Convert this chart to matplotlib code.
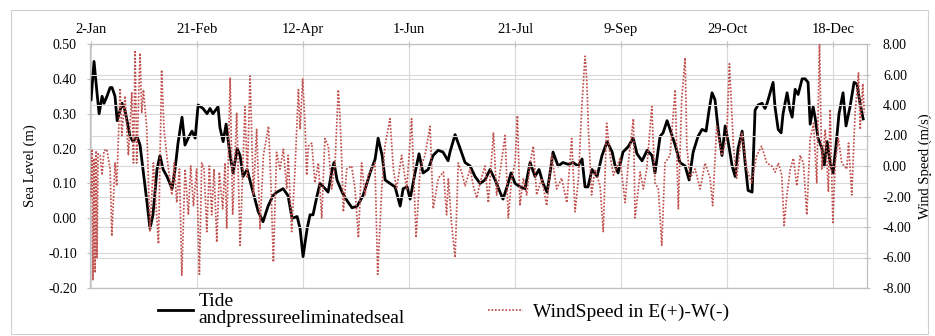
import matplotlib
matplotlib.use("Agg")
import matplotlib.pyplot as plt
from matplotlib.lines import Line2D
from matplotlib.patches import Rectangle

plt.rcParams['font.family'] = ['Liberation Serif', 'DejaVu Serif']

# ---------------- data (days counted from 2-Jan) ----------------
tick_days = [0, 50, 100, 150, 200, 250, 300, 350]
tick_labels = ["2-Jan", "21-Feb", "12-Apr", "1-Jun", "21-Jul", "9-Sep", "29-Oct", "18-Dec"]

sea_days = [0, 1.4, 2.8, 3.8, 5.2, 6.1, 7.5, 9.0, 9.9, 11.3, 12.3, 14.6, 16.0, 18.4, 19.8,
            21.7, 23.1, 24.5, 26.4, 27.8, 29.2, 31.1, 32.5, 34.0, 35.8, 38.2, 39.6, 41.0,
            42.9, 44.3, 45.8, 47.6, 49.1, 50.5, 52.8, 54.7, 56.1, 57.5, 59.9, 60.8, 62.3,
            63.7, 65.6, 67.0, 68.9, 70.3, 71.7, 73.6, 76.4, 78.8, 81.1, 83.5, 85.8, 87.7,
            90.6, 92.9, 94.8, 97.2, 98.6, 100.0, 101.9, 103.3, 104.7, 106.6, 108.0, 110.4,
            111.8, 113.7, 114.6, 116.0, 118.4, 120.8, 123.1, 125.5, 128.3, 131.6, 134.0,
            135.4, 137.3, 138.7, 141.0, 143.4, 145.8, 147.2, 149.1, 150.5, 152.8, 154.7,
            156.6, 159.0, 161.3, 163.7, 166.0, 168.4, 169.3, 171.7, 174.1, 176.4, 178.8,
            181.1, 183.5, 185.8, 188.2, 190.6, 192.9, 194.3, 196.2, 198.1, 200.0, 202.4,
            204.7, 207.1, 209.4, 211.3, 213.2, 215.1, 216.5, 217.9, 220.3, 222.6, 225.0,
            227.4, 229.7, 231.6, 233.0, 234.4, 236.3, 238.7, 241.0, 243.4, 245.8, 247.2,
            248.6, 250.9, 253.3, 255.7, 257.5, 259.9, 262.3, 264.6, 266.0, 268.4, 269.8,
            271.7, 273.1, 275.5, 277.8, 280.2, 282.1, 284.0, 286.3, 288.2, 290.1, 291.5,
            292.9, 294.3, 295.8, 297.6, 299.1, 300.5, 302.4, 303.8, 305.2, 307.1, 308.5,
            309.9, 311.8, 313.2, 314.6, 316.5, 317.9, 318.9, 320.3, 321.7, 322.6, 324.1,
            325.5, 326.4, 328.3, 329.7, 330.7, 332.1, 333.5, 335.4, 336.8, 338.2, 339.2,
            340.6, 341.5, 342.9, 344.8, 345.8, 347.2, 348.6, 350.0, 351.4, 352.8, 354.7,
            356.1, 358.0, 359.9, 361.3, 362.7, 364.2]
sea_level = [0.34, 0.45, 0.36, 0.30, 0.35, 0.33, 0.35, 0.375, 0.375, 0.35, 0.28, 0.33, 0.31,
             0.235, 0.22, 0.235, 0.21, 0.14, 0.045, -0.03, 0.01, 0.14, 0.18, 0.14, 0.12,
             0.085, 0.14, 0.215, 0.29, 0.21, 0.23, 0.25, 0.23, 0.325, 0.315, 0.30, 0.315,
             0.30, 0.32, 0.26, 0.22, 0.27, 0.18, 0.13, 0.20, 0.18, 0.12, 0.14, 0.075, 0.02,
             -0.01, 0.035, 0.065, 0.075, 0.085, 0.065, 0.00, 0.005, -0.03, -0.11, -0.03,
             0.01, 0.01, 0.065, 0.10, 0.085, 0.075, 0.14, 0.16, 0.11, 0.075, 0.05, 0.03,
             0.035, 0.065, 0.13, 0.17, 0.23, 0.18, 0.11, 0.10, 0.09, 0.035, 0.085, 0.09,
             0.055, 0.13, 0.185, 0.13, 0.14, 0.18, 0.195, 0.19, 0.165, 0.19, 0.24, 0.20,
             0.16, 0.15, 0.12, 0.10, 0.11, 0.14, 0.11, 0.075, 0.055, 0.09, 0.13, 0.10, 0.09,
             0.085, 0.16, 0.12, 0.14, 0.10, 0.075, 0.13, 0.19, 0.15, 0.16, 0.155, 0.16,
             0.15, 0.17, 0.09, 0.09, 0.14, 0.12, 0.18, 0.22, 0.19, 0.15, 0.13, 0.19, 0.205,
             0.23, 0.185, 0.165, 0.195, 0.18, 0.13, 0.235, 0.245, 0.28, 0.255, 0.21, 0.16,
             0.15, 0.11, 0.19, 0.235, 0.255, 0.25, 0.31, 0.36, 0.34, 0.255, 0.18, 0.265,
             0.22, 0.15, 0.12, 0.20, 0.25, 0.16, 0.08, 0.075, 0.31, 0.325, 0.33, 0.315,
             0.33, 0.36, 0.39, 0.32, 0.255, 0.245, 0.30, 0.36, 0.31, 0.29, 0.37, 0.355,
             0.40, 0.40, 0.39, 0.27, 0.32, 0.29, 0.23, 0.20, 0.15, 0.22, 0.16, 0.13, 0.21,
             0.30, 0.36, 0.265, 0.32, 0.39, 0.385, 0.33, 0.285]

wind_days = [0, 0.5, 0.9, 1.4, 1.9, 2.4, 2.8, 3.3, 4.3, 5.2, 6.1, 7.4, 9.0, 9.8, 11.3, 12.1,
             13.7, 14.5, 16.0, 17.6, 19.2, 20.0, 20.8, 21.5, 23.1, 23.9, 24.7, 26.3, 27.8,
             29.4, 31.8, 33.3, 34.4, 35.7, 38.1, 39.2, 40.4, 41.7, 42.8, 44.3, 45.9, 47.0,
             48.3, 49.8, 51.1, 52.2, 53.3, 54.6, 55.8, 56.9, 58.0, 59.3, 60.5, 62.1, 63.2,
             64.0, 65.6, 66.8, 68.7, 70.3, 72.6, 73.7, 75.0, 76.6, 78.1, 79.7, 81.3, 83.7,
             84.8, 86.0, 87.5, 89.1, 90.7, 92.3, 93.0, 94.6, 96.2, 97.8, 98.6, 99.8, 100.9,
             101.7, 102.5, 104.1, 105.6, 107.2, 108.8, 110.3, 111.9, 113.5, 115.1, 116.6,
             117.4, 118.2, 119.0, 120.6, 122.9, 124.5, 126.1, 127.6, 129.2, 130.8, 132.4,
             133.9, 135.2, 137.1, 138.6, 141.0, 142.6, 144.1, 146.5, 148.9, 151.2, 153.3,
             155.2, 157.5, 159.9, 161.4, 163.8, 166.2, 167.7, 168.5, 170.1, 171.7, 173.2,
             174.8, 176.4, 178.8, 180.3, 181.9, 183.5, 185.8, 187.4, 189.8, 191.3, 192.9,
             195.3, 196.8, 198.4, 200.0, 201.1, 202.3, 203.9, 205.5, 207.1, 208.6, 210.2,
             212.6, 214.9, 217.3, 219.6, 222.0, 224.4, 226.7, 228.3, 229.9, 231.4, 233.0,
             233.8, 234.6, 236.1, 237.7, 240.1, 241.6, 243.2, 244.8, 246.4, 248.7, 249.5,
             251.9, 253.4, 255.8, 256.6, 259.0, 260.5, 262.1, 264.5, 266.0, 267.6, 269.2,
             270.7, 273.1, 275.5, 277.0, 278.6, 280.2, 281.0, 282.5, 284.9, 287.3, 289.6,
             292.0, 293.2, 295.1, 297.5, 299.8, 301.1, 303.0, 304.5, 306.9, 309.3, 311.6,
             314.0, 316.3, 318.7, 321.1, 322.7, 324.2, 325.8, 326.9, 328.2, 329.8, 331.3,
             332.9, 334.5, 336.0, 337.6, 339.2, 340.8, 342.3, 343.6, 344.7, 346.3, 347.8,
             348.6, 349.9, 351.0, 352.5, 354.1, 356.5, 357.3, 358.8, 360.4, 362.0, 362.8,
             364.0, 364.7]
wind_speed = [-2.0, 1.0, -7.5, 0.5, -7.0, 1.0, -6.0, 0.8, 0.7, -0.6, 1.0, 1.1, -0.2, -4.6,
              0.2, -1.3, 5.1, 2.0, 4.6, 0.7, 4.8, 0.2, 7.6, 0.2, 7.4, 3.5, 5.0, 2.4, -4.3,
              0.2, -5.1, 6.3, 2.4, 0.7, -1.9, 0.2, -2.4, -0.2, -7.2, -0.2, -3.2, 0.0, -2.6,
              -0.2, -7.1, 0.2, -0.2, -4.3, 0.0, -3.2, -0.2, -5.0, -0.4, -2.8, 0.2, -4.1,
              5.8, -3.2, 3.5, -5.2, 3.9, -0.8, 5.9, -1.9, 2.4, -4.1, 0.7, 2.6, -1.1, -6.3,
              0.9, -0.2, 1.1, -1.5, 0.7, -4.3, -0.2, 5.0, 2.4, 5.7, 2.8, -0.6, 1.3, 1.5,
              -1.1, 0.2, -3.4, 1.8, 1.3, -1.5, 0.2, 5.0, 3.3, 0.5, -3.0, -0.2, 0.0, -1.5,
              -4.7, 0.2, -1.9, -0.6, -0.2, 0.2, -7.1, -1.5, 1.3, 3.1, -0.2, -1.5, 0.7, -1.5,
              3.1, -4.7, -0.2, 0.7, 2.6, -2.8, -0.8, -0.4, -3.2, -0.8, -3.9, -6.0, 0.2,
              -0.4, -1.3, -0.2, -1.3, -2.1, -1.1, 0.0, -2.4, 2.2, -1.9, -0.4, 2.0, -3.4,
              -0.8, 0.2, 3.3, -2.6, -0.8, -1.9, 0.2, 1.3, -1.9, -0.8, -2.6, 0.7, -1.5, -0.8,
              -2.4, 1.8, -3.0, -0.8, 3.7, 7.2, 5.7, 2.4, -1.9, -0.2, -1.3, -4.3, 2.8, 0.7,
              -0.6, 0.2, 0.5, -2.4, 0.2, 3.1, -3.4, -0.4, -1.5, -0.2, 3.9, -1.1, -1.5, -5.2,
              0.2, 0.7, 5.0, -2.8, 4.4, 7.1, 1.3, -0.8, -0.2, -1.5, 0.2, -0.8, -2.6, 2.6,
              0.7, 1.8, 6.7, 1.3, -0.8, 2.2, -0.2, -1.1, 0.7, 1.3, 0.2, 0.0, -0.4, 0.2,
              -0.6, -3.9, -1.9, -0.2, 0.5, -1.3, 0.7, 0.2, -3.2, 1.8, 2.8, -1.1, 8.0, -0.2,
              2.4, -1.7, 3.7, -3.7, 0.2, 1.8, 0.2, -0.2, 1.5, -1.9, 3.5, 6.1, 2.4, 5.4, 3.5]

sea_ticks = [-0.2, -0.1, 0.0, 0.1, 0.2, 0.3, 0.4, 0.5]
wind_ticks = [-8, -6, -4, -2, 0, 2, 4, 6, 8]

# ---------------- figure ----------------
fig = plt.figure(figsize=(9.35, 3.36), dpi=100)
ax = fig.add_axes([90 / 935, 1 - 288 / 336, (867 - 90) / 935, (288 - 44) / 336])
ax2 = ax.twinx()

grid_c = '#D9D9D9'
spine_c = '#BFBFBF'
wind_c = '#C0504D'

ax.plot(sea_days, sea_level, color='black', lw=2.0, zorder=3)
ax2.plot(wind_days, wind_speed, color=wind_c, lw=1.25, linestyle=(0, (1, 1)), zorder=3)

ax.set_xlim(-0.5, 366)
ax.set_ylim(-0.2, 0.5)
ax2.set_ylim(-8, 8)

ax.set_xticks(tick_days)
ax.set_xticklabels(tick_labels)
ax.xaxis.tick_top()
ax.set_yticks(sea_ticks)
ax.set_yticklabels([f"{v:.2f}" for v in sea_ticks])
ax2.set_yticks(wind_ticks)
ax2.set_yticklabels([f"{v:.2f}" for v in wind_ticks])

ax.grid(True, color=grid_c, lw=0.8, zorder=0)
ax2.grid(True, axis='y', color=grid_c, lw=0.8, zorder=0)
ax.set_axisbelow(True)
ax2.set_axisbelow(True)

for a in (ax, ax2):
    for s in a.spines.values():
        s.set_color(spine_c)
        s.set_linewidth(0.8)

ax.tick_params(axis='x', which='both', top=True, bottom=False, direction='inout', length=5,
               color=spine_c, labelsize=10.5, pad=3)
ax.tick_params(axis='y', direction='inout', length=5, color=spine_c, labelsize=10, pad=7)
ax2.tick_params(axis='y', direction='inout', length=5, color=spine_c, labelsize=10, pad=9)

ax.set_ylabel("Sea Level (m)", fontsize=10.5, labelpad=8)
ax2.set_ylabel("Wind Speed (m/s)", fontsize=10.5, labelpad=5)

# legends
h1 = Line2D([], [], color='black', lw=2.0)
h2 = Line2D([], [], color=wind_c, lw=1.25, linestyle=(0, (1, 1)))
leg1 = fig.legend([h1], ["Tide\nandpressureeliminatedseal"], loc='center left',
                  bbox_to_anchor=(158 / 935, 1 - 310 / 336), frameon=False, fontsize=14,
                  handlelength=1.8, handletextpad=0.3, borderpad=0, borderaxespad=0)
for t in leg1.get_texts():
    t.set_linespacing(0.95)
leg2 = fig.legend([h2], ["WindSpeed in E(+)-W(-)"], loc='center left',
                  bbox_to_anchor=(488 / 935, 1 - 312 / 336), frameon=False, fontsize=14,
                  handlelength=1.8, handletextpad=0.5, borderpad=0, borderaxespad=0)

fig.patches.append(Rectangle((11 / 935, 2 / 336), (928 - 11) / 935, (326 - 2) / 336,
                             transform=fig.transFigure, fill=False, ec='#D0D0D0', lw=0.8))

fig.savefig("out.png", dpi=100)
